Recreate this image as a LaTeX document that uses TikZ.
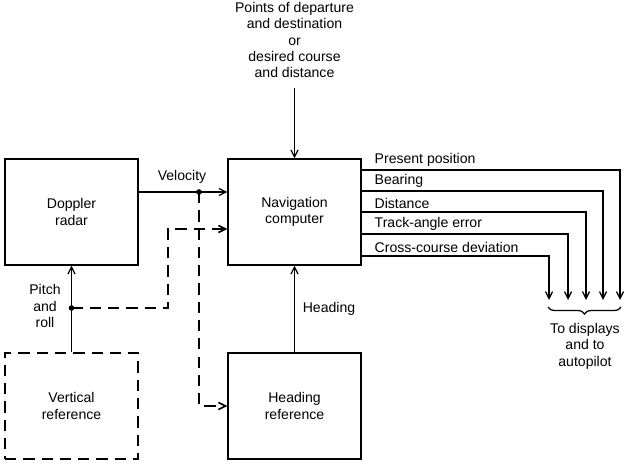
\documentclass[tikz,border=0pt]{standalone}
\usepackage{fontspec}
\setmainfont{Liberation Sans}
\usepackage{tikz}
\usetikzlibrary{arrows.meta,positioning,calc,decorations.pathreplacing}
\tikzset{
  blockbox/.style={rectangle, draw, line width=0.9pt, minimum width=3.325cm, minimum height=2.65cm, align=center, inner sep=0pt},
  dashbox/.style={blockbox, dash pattern=on 8pt off 5pt},
  arrow/.style={-{Straight Barb[length=5pt,width=5pt]}, line width=0.9pt},
  dasharrow/.style={-{Straight Barb[length=5pt,width=5pt]}, line width=1.2pt, dash pattern=on 8pt off 5pt},
  lbl/.style={font=\fontsize{10}{11.7}\selectfont, align=center, inner sep=1pt},
  junc/.style={circle, fill, inner sep=0pt, minimum size=4pt},
}

\begin{document}
\begin{tikzpicture}[x=0.025cm, y=-0.025cm]
  \useasboundingbox (0,0) rectangle (627,466);

  % Blocks
  \node[blockbox, lbl] (doppler) at (71.5,212) {Doppler\\radar};
  \node[blockbox, lbl] (nav) at (294.5,212) {Navigation\\computer};
  \node[dashbox, lbl] (vert) at (71.5,406) {Vertical\\reference};
  \node[blockbox, lbl] (head) at (294.5,406) {Heading\\reference};

  % Inputs from the top
  \node[lbl] (points) at (294.5,40) {Points of departure\\and destination\\or\\desired course\\and distance};
  \draw[arrow] (points.south |- 0,88) -- (nav.north);

  % Velocity
  \coordinate (vjunc) at (199,192);
  \draw[arrow] (doppler.east |- vjunc) -- (nav.west |- vjunc);
  \node[lbl] (vel) at (182,177) {Velocity};
  \node[junc] at (vjunc) {};
  \draw[dasharrow] (vjunc) -- (vjunc |- 0,406) -- (head.west);

  % Pitch and roll
  \coordinate (pjunc) at (71.5,308);
  \draw[arrow] (vert.north) -- (doppler.south);
  \node[junc] at (pjunc) {};
  \node[lbl] (pitch) at (45,306) {Pitch\\and\\roll};
  \draw[dasharrow] (pjunc) -- (168,308) -- (168,229) -- (nav.west |- 0,229);

  % Heading
  \draw[arrow] (head.north) -- (nav.south);
  \node[lbl] (hdg) at (329,309) {Heading};

  % Outputs
  \foreach \y/\x/\txt in {170/620/Present position, 191/603/Bearing, 212/586/Distance, 234/568/Track-angle error, 256/549/Cross-course deviation} {
    \draw[arrow] (nav.east |- 0,\y) -| (\x,300);
    \node[lbl, anchor=south west] at (373,\y-1.5) {\txt};
  }

  % Displays
  \draw[line width=0.9pt, decorate, decoration={brace, mirror, amplitude=5pt}] (548,307) -- (621,307);
  \node[lbl] (disp) at (585,346) {To displays\\and to\\autopilot};
\end{tikzpicture}
\end{document}
